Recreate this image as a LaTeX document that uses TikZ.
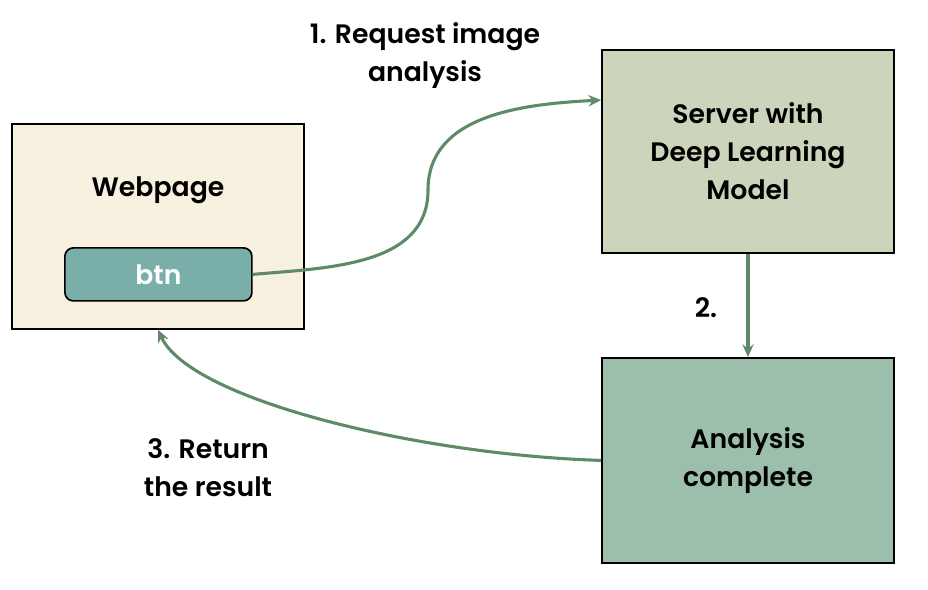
\documentclass[tikz,border=0pt]{standalone}
\usepackage{fontspec}
\setmainfont{Poppins}[BoldFont={* SemiBold}]
\usetikzlibrary{arrows.meta}

\definecolor{cream}{HTML}{F8F1DF}
\definecolor{teal}{HTML}{7AAFA9}
\definecolor{sage}{HTML}{CCD5BB}
\definecolor{mint}{HTML}{9BBFAA}
\definecolor{arrowgreen}{HTML}{5E8A68}

\begin{document}
\begin{tikzpicture}
            \tikzset{box/.style={draw=black, line width=1.2pt, minimum width=7.3cm, align=center,
                    font=\fontsize{19}{27}\selectfont\bfseries}};
            \tikzset{line/.style={arrowgreen, line width=2.2pt, -{Stealth[length=9pt,width=8pt]}}};
            \tikzset{lbl/.style={align=center, font=\fontsize{19}{27}\selectfont\bfseries}};

            \useasboundingbox (0,0) rectangle (23.2,14.75);

            \node[box, fill=cream, minimum height=5.125cm] (web) at (3.95,9.09) {};
            \node[lbl] (webtext) at (3.95,10.0) {Webpage};
            \node[box, fill=teal, rounded corners=6pt, minimum width=4.675cm, minimum height=1.325cm,
                text=white] (btn) at (3.96,7.89) {btn};

            \node[box, fill=sage, minimum height=5.075cm] (server) at (18.7,10.96) {Server with\\Deep Learning\\Model};
            \node[box, fill=mint, minimum height=5.125cm] (done) at (18.7,3.24) {Analysis\\complete};

            % 1.
            \coordinate (bend) at (10.7,10.0);
            \draw[line] (btn.east) to[out=5,in=-90] (bend) to[out=90,in=183] ([yshift=-1.27cm]server.north west);
            \node[lbl] (req) at (10.625,13.35) {1. Request image\\analysis};

            % 2.
            \draw[line] (server) -- (done);
            \node[lbl] (two) at (17.65,7.05) {2.};

            % 3.
            \draw[line] (done.west) .. controls (10.5,3.375) and (4.75,4.75) .. (web.south);
            \node[lbl] (ret) at (5.2,3.05) {3. Return\\the result};
\end{tikzpicture}
\end{document}
